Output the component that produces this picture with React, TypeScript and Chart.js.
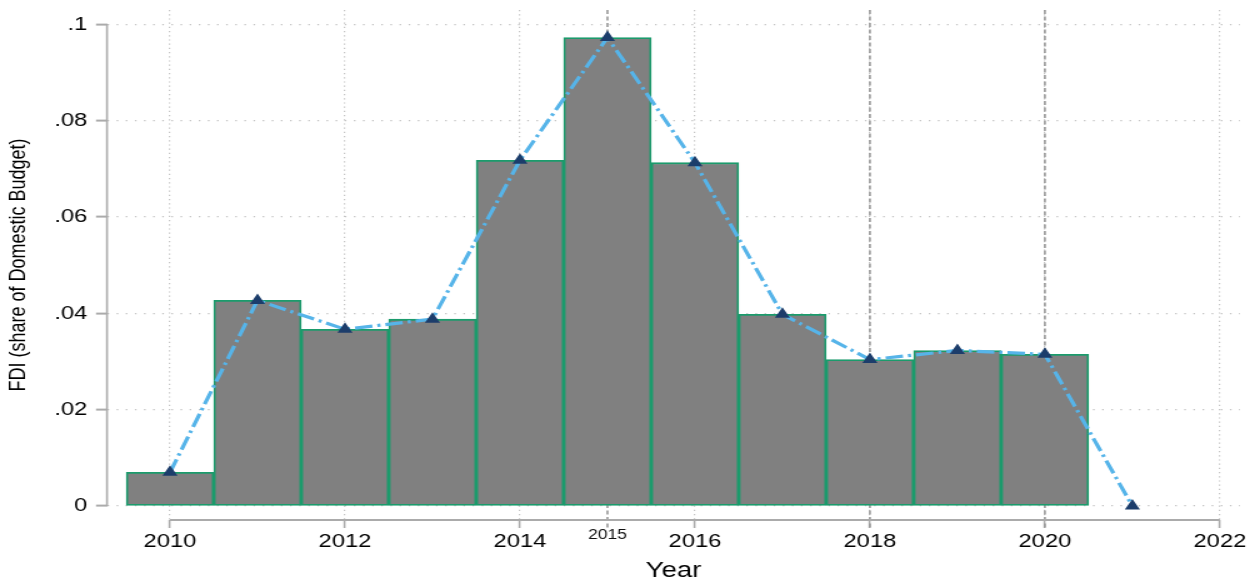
import React, { useEffect, useRef } from "react";
import { Chart, registerables } from "chart.js";

Chart.register(...registerables);

// ---- data ----
const barYears = [2010, 2011, 2012, 2013, 2014, 2015, 2016, 2017, 2018, 2019, 2020];
const barValues = [0.007, 0.0427, 0.0367, 0.0388, 0.0718, 0.0973, 0.0713, 0.0398, 0.0304, 0.0323, 0.0315];
const lineYears = [2010, 2011, 2012, 2013, 2014, 2015, 2016, 2017, 2018, 2019, 2020, 2021];
const lineValues = [0.007, 0.0427, 0.0367, 0.0388, 0.0718, 0.0973, 0.0713, 0.0398, 0.0304, 0.0323, 0.0315, 0];
const xTickValues = [2010, 2012, 2014, 2016, 2018, 2020, 2022];
const xTickLabels = ["2010", "2012", "2014", "2016", "2018", "2020", "2022"];
const yTickValues = [0, 0.02, 0.04, 0.06, 0.08, 0.1];
const yTickLabels = ["0", ".02", ".04", ".06", ".08", ".1"];
const markedYears = [2015, 2018, 2020];
const extraTickYears = [2015];
const extraTickLabels = ["2015"];

const FONT = "'Liberation Sans', Arial, Helvetica, sans-serif";
const CANVAS_W = 1004;
const CANVAS_H = 583;
const DISPLAY_W = 1255;

const AXIS_COLOR = "#ababab";
const GRID_COLOR = "#c4c4c4";

const decorPlugin = {
  id: "decor",
  beforeDatasetsDraw(chart: any) {
    const { ctx, chartArea, scales } = chart;
    const x = scales.x;
    const y = scales.y;
    ctx.save();
    // reference dashed lines
    ctx.strokeStyle = "#999999";
    ctx.lineWidth = 1.6;
    ctx.setLineDash([4, 2.5]);
    markedYears.forEach((yr) => {
      const px = x.getPixelForValue(yr);
      ctx.beginPath();
      ctx.moveTo(px, chartArea.top);
      ctx.lineTo(px, chartArea.bottom + 8);
      ctx.stroke();
    });
    // axis lines
    ctx.setLineDash([]);
    ctx.strokeStyle = AXIS_COLOR;
    ctx.lineWidth = 2;
    ctx.beginPath();
    ctx.moveTo(x.getPixelForValue(xTickValues[0]), chartArea.bottom);
    ctx.lineTo(x.getPixelForValue(xTickValues[xTickValues.length - 1]), chartArea.bottom);
    ctx.stroke();
    ctx.lineWidth = 1.6;
    ctx.beginPath();
    ctx.moveTo(chartArea.left, y.getPixelForValue(yTickValues[0]));
    ctx.lineTo(chartArea.left, y.getPixelForValue(yTickValues[yTickValues.length - 1]));
    ctx.stroke();
    ctx.restore();
  },
  afterDraw(chart: any) {
    const { ctx, chartArea, scales } = chart;
    const x = scales.x;
    ctx.save();
    ctx.fillStyle = "#111";
    ctx.font = `14px ${FONT}`;
    ctx.textAlign = "center";
    ctx.textBaseline = "middle";
    extraTickYears.forEach((yr, i) => {
      ctx.fillText(extraTickLabels[i], x.getPixelForValue(yr), chartArea.bottom + 15);
    });
    ctx.restore();
  },
};

export default function App() {
  const canvasRef = useRef<HTMLCanvasElement | null>(null);

  useEffect(() => {
    const canvas = canvasRef.current;
    if (!canvas) return;
    const chart = new Chart(canvas, {
      type: "bar",
      data: {
        datasets: [
          {
            type: "line",
            label: "line",
            data: lineYears.map((yr, i) => ({ x: yr, y: lineValues[i] })),
            borderColor: "#56b4e9",
            borderWidth: 3.2,
            borderDash: [14, 4, 2.5, 4],
            pointStyle: "triangle",
            pointRadius: 7,
            pointBackgroundColor: "#1c3d6b",
            pointBorderColor: "#1c3d6b",
            pointBorderWidth: 0,
            tension: 0,
            fill: false,
            order: 0,
          } as any,
          {
            type: "bar",
            label: "bars",
            data: barYears.map((yr, i) => ({ x: yr, y: barValues[i] })),
            backgroundColor: "#808080",
            borderColor: "#1b9b6c",
            borderWidth: 1.8,
            borderSkipped: false,
            barPercentage: 1,
            categoryPercentage: 1,
            order: 1,
          } as any,
        ],
      },
      options: {
        responsive: false,
        maintainAspectRatio: false,
        devicePixelRatio: 1,
        animation: false,
        layout: { padding: { top: 10, right: 12, left: 0, bottom: 0 } },
        plugins: {
          legend: { display: false },
          tooltip: { enabled: false },
        },
        scales: {
          x: {
            type: "linear",
            min: 2009.28,
            max: 2022.23,
            offset: false,
            afterBuildTicks: (s: any) => {
              s.ticks = xTickValues.map((v) => ({ value: v }));
            },
            afterFit: (s: any) => {
              s.height = 63;
              s.paddingLeft = 0;
              s.paddingRight = 0;
            },
            border: { display: false, dash: [1.2, 3] },
            grid: {
              offset: false,
              color: GRID_COLOR,
              lineWidth: 1.2,
              drawTicks: true,
              tickLength: 8,
              tickColor: AXIS_COLOR,
              tickWidth: 1.6,
              tickBorderDash: [],
            },
            ticks: {
              autoSkip: false,
              maxRotation: 0,
              padding: 2,
              color: "#000",
              font: { family: FONT, size: 19 },
              callback: (_v: any, i: number) => xTickLabels[i],
            },
            title: {
              display: true,
              text: "Year",
              color: "#000",
              font: { family: FONT, size: 22, lineHeight: 1.1 },
              padding: { top: 0, bottom: 0 },
            },
          },
          y: {
            type: "linear",
            min: -0.00291,
            max: 0.10301,
            afterBuildTicks: (s: any) => {
              s.ticks = yTickValues.map((v) => ({ value: v }));
            },
            afterFit: (s: any) => {
              s.width = 85.6;
              s.paddingTop = 0;
              s.paddingBottom = 0;
            },
            border: { display: false, dash: [1.3, 6] },
            grid: {
              color: GRID_COLOR,
              lineWidth: 1.2,
              drawTicks: true,
              tickLength: 8.8,
              tickColor: AXIS_COLOR,
              tickWidth: 2,
              tickBorderDash: [],
            },
            ticks: {
              padding: 7,
              color: "#000",
              font: { family: FONT, size: 19 },
              callback: (_v: any, i: number) => yTickLabels[i],
            },
            title: {
              display: true,
              text: "FDI (share of Domestic Budget)",
              color: "#000",
              font: { family: FONT, size: 18 },
              padding: { top: 4, bottom: 0 },
            },
          },
        },
      },
      plugins: [decorPlugin],
    } as any);
    return () => chart.destroy();
  }, []);

  return (
    <div style={{ position: "fixed", left: 0, top: 0, width: DISPLAY_W, height: CANVAS_H, background: "#fff" }}>
      <canvas
        ref={canvasRef}
        width={CANVAS_W}
        height={CANVAS_H}
        style={{ display: "block", width: DISPLAY_W + "px", height: CANVAS_H + "px" }}
      />
    </div>
  );
}
